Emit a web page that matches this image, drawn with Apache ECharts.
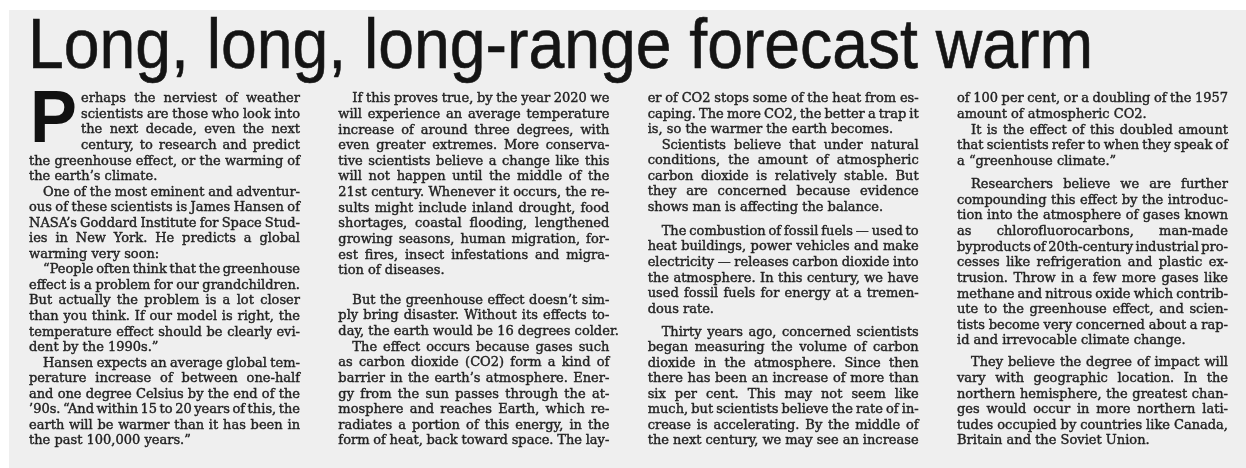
<!DOCTYPE html>
<html>
<head>
<meta charset="utf-8">
<title>Long, long, long-range forecast warm</title>
<script src="https://cdn.jsdelivr.net/npm/echarts@6/dist/echarts.min.js"></script>
<style>
  html, body { margin: 0; padding: 0; background: #ffffff; }
  #chart { width: 1246px; height: 468px; }
</style>
</head>
<body>
<div id="chart"></div>
<script>
  const headline = "Long, long, long-range forecast warm";
  const dropCap = "P";

  // "\t" = paragraph indent, "" = paragraph space
  const column1 = [
    "erhaps the nerviest of weather",
    "scientists are those who look into",
    "the next decade, even the next",
    "century, to research and predict",
    "the greenhouse effect, or the warming of",
    "the earth’s climate.",
    "\tOne of the most eminent and adventur-",
    "ous of these scientists is James Hansen of",
    "NASA’s Goddard Institute for Space Stud-",
    "ies in New York. He predicts a global",
    "warming very soon:",
    "\t“People often think that the greenhouse",
    "effect is a problem for our grandchildren.",
    "But actually the problem is a lot closer",
    "than you think. If our model is right, the",
    "temperature effect should be clearly evi-",
    "dent by the 1990s.”",
    "\tHansen expects an average global tem-",
    "perature increase of between one-half",
    "and one degree Celsius by the end of the",
    "’90s. “And within 15 to 20 years of this, the",
    "earth will be warmer than it has been in",
    "the past 100,000 years.”",
  ];

  const column2 = [
    "\tIf this proves true, by the year 2020 we",
    "will experience an average temperature",
    "increase of around three degrees, with",
    "even greater extremes. More conserva-",
    "tive scientists believe a change like this",
    "will not happen until the middle of the",
    "21st century. Whenever it occurs, the re-",
    "sults might include inland drought, food",
    "shortages, coastal flooding, lengthened",
    "growing seasons, human migration, for-",
    "est fires, insect infestations and migra-",
    "tion of diseases.",
    "",
    "\tBut the greenhouse effect doesn’t sim-",
    "ply bring disaster. Without its effects to-",
    "day, the earth would be 16 degrees colder.",
    "\tThe effect occurs because gases such",
    "as carbon dioxide (CO2) form a kind of",
    "barrier in the earth’s atmosphere. Ener-",
    "gy from the sun passes through the at-",
    "mosphere and reaches Earth, which re-",
    "radiates a portion of this energy, in the",
    "form of heat, back toward space. The lay-",
  ];

  const column3 = [
    "er of CO2 stops some of the heat from es-",
    "caping. The more CO2, the better a trap it",
    "is, so the warmer the earth becomes.",
    "\tScientists believe that under natural",
    "conditions, the amount of atmospheric",
    "carbon dioxide is relatively stable. But",
    "they are concerned because evidence",
    "shows man is affecting the balance.",
    "",
    "\tThe combustion of fossil fuels — used to",
    "heat buildings, power vehicles and make",
    "electricity — releases carbon dioxide into",
    "the atmosphere. In this century, we have",
    "used fossil fuels for energy at a tremen-",
    "dous rate.",
    "",
    "\tThirty years ago, concerned scientists",
    "began measuring the volume of carbon",
    "dioxide in the atmosphere. Since then",
    "there has been an increase of more than",
    "six per cent. This may not seem like",
    "much, but scientists believe the rate of in-",
    "crease is accelerating. By the middle of",
    "the next century, we may see an increase",
  ];

  const column4 = [
    "of 100 per cent, or a doubling of the 1957",
    "amount of atmospheric CO2.",
    "\tIt is the effect of this doubled amount",
    "that scientists refer to when they speak of",
    "a “greenhouse climate.”",
    "",
    "\tResearchers believe we are further",
    "compounding this effect by the introduc-",
    "tion into the atmosphere of gases known",
    "as chlorofluorocarbons, man-made",
    "byproducts of 20th-century industrial pro-",
    "cesses like refrigeration and plastic ex-",
    "trusion. Throw in a few more gases like",
    "methane and nitrous oxide which contrib-",
    "ute to the greenhouse effect, and scien-",
    "tists become very concerned about a rap-",
    "id and irrevocable climate change.",
    "",
    "\tThey believe the degree of impact will",
    "vary with geographic location. In the",
    "northern hemisphere, the greatest chan-",
    "ges would occur in more northern lati-",
    "tudes occupied by countries like Canada,",
    "Britain and the Soviet Union.",
  ];

  const columns = [column1, column2, column3, column4];
  const columnGaps = [[], [0.9], [0.55, 0.5], [0.5, 0.4]];
  const lastLineEndsParagraph = [true, false, false, true];

  const BODY_FONT = "13px 'DejaVu Serif'";
  const TITLE_FONT = "70px 'Liberation Sans'";
  const CAP_FONT = "bold 74px 'Liberation Sans'";
  const COL_WIDTH = 271;
  const PARA_INDENT = 14;
  const DROP_INDENT = 52;
  const DROP_LINES = 4;
  const INK = "#222222";

  const measureCtx = document.createElement("canvas").getContext("2d");
  function textWidth(text, font) {
    measureCtx.font = font;
    return measureCtx.measureText(text).width;
  }

  // flatten columns into line records with a 0..1 vertical position per column
  const lineInfo = [];
  const points = [];
  columns.forEach((lines, c) => {
    const gaps = columnGaps[c].slice();
    let pos = 0;
    const placed = [];
    lines.forEach((raw, i) => {
      if (raw === "") {
        pos += gaps.shift() || 0.5;
        return;
      }
      const next = lines[i + 1];
      const isLast = i === lines.length - 1;
      const endsPara = isLast ? lastLineEndsParagraph[c] : (next === "" || next.startsWith("\t"));
      let indent = raw.startsWith("\t") ? PARA_INDENT : 0;
      if (c === 0 && placed.length < DROP_LINES) indent = DROP_INDENT;
      placed.push({ pos, text: raw.replace(/^\t/, ""), indent, justify: !endsPara });
      pos += 1;
    });
    const span = placed[placed.length - 1].pos;
    placed.forEach((p) => {
      lineInfo.push(p);
      points.push([c, p.pos / span, lineInfo.length - 1]);
    });
  });

  function renderLine(params, api) {
    const info = lineInfo[api.value(2)];
    const pt = api.coord([api.value(0), api.value(1)]);
    const words = info.text.split(" ");
    const widths = words.map((w) => textWidth(w, BODY_FONT));
    const wordsW = widths.reduce((a, b) => a + b, 0);
    const avail = COL_WIDTH - info.indent;
    const normalSpace = textWidth(" ", BODY_FONT);
    const gaps = Math.max(words.length - 1, 1);
    let space = normalSpace;
    let scale = 1;
    if (info.justify && words.length > 1) {
      space = (avail - wordsW) / gaps;
    }
    if (space < 2.2) {
      space = Math.max(2.2, Math.min(space, normalSpace));
      const total = wordsW + space * (words.length - 1);
      if (total > avail) {
        space = 2.2;
        scale = avail / (wordsW + space * (words.length - 1));
      }
    }
    let x = 0;
    const children = words.map((w, i) => {
      const el = {
        type: "text",
        x: x,
        y: 0,
        style: {
          text: w,
          font: BODY_FONT,
          fill: INK,
          stroke: INK,
          lineWidth: 0.4,
          align: "left",
          verticalAlign: "middle",
        },
      };
      x += widths[i] + space;
      return el;
    });
    return {
      type: "group",
      x: pt[0] + info.indent,
      y: pt[1] + 1,
      scaleX: scale,
      children,
    };
  }

  const chart = echarts.init(document.getElementById("chart"), null, { renderer: "canvas" });
  const titleScale = 1065 / textWidth(headline, TITLE_FONT);

  chart.setOption({
    backgroundColor: "#ffffff",
    animation: false,
    grid: { left: 29, top: 98, width: 928, bottom: 28 },
    xAxis: { type: "value", min: 0, max: 3, show: false },
    yAxis: { type: "value", min: 0, max: 1, inverse: true, show: false },
    graphic: [
      {
        type: "rect",
        z: -10,
        silent: true,
        shape: { x: 9, y: 10, width: 1237, height: 458 },
        style: { fill: "#efefef" },
      },
      {
        type: "text",
        x: 28,
        y: 49,
        scaleX: titleScale,
        silent: true,
        style: {
          text: headline,
          font: TITLE_FONT,
          fill: "#141414",
          stroke: "#141414",
          lineWidth: 0.6,
          verticalAlign: "middle",
        },
      },
      {
        type: "text",
        x: 30,
        y: 122,
        scaleX: 0.95,
        silent: true,
        style: {
          text: dropCap,
          font: CAP_FONT,
          fill: "#111111",
          verticalAlign: "middle",
        },
      },
    ],
    series: [
      {
        type: "custom",
        coordinateSystem: "cartesian2d",
        data: points,
        encode: { x: 0, y: 1 },
        clip: false,
        silent: true,
        renderItem: renderLine,
      },
    ],
  });
</script>
</body>
</html>
